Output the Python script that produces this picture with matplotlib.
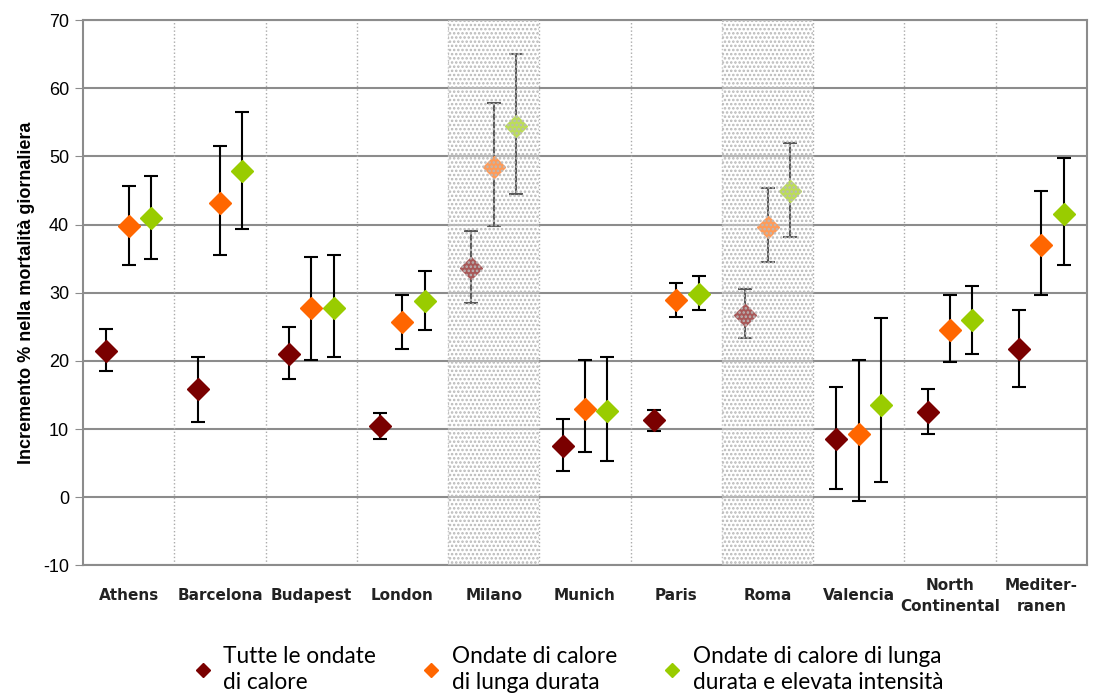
import matplotlib.pyplot as plt
import numpy as np
from matplotlib.patches import Rectangle
from matplotlib.lines import Line2D

plt.rcParams['axes.unicode_minus'] = False
plt.rcParams['hatch.linewidth'] = 1.2
plt.rcParams['hatch.color'] = '#b8b8b8'

cities = ['Athens', 'Barcelona', 'Budapest', 'London', 'Milano', 'Munich',
          'Paris', 'Roma', 'Valencia', 'North\nContinental', 'Mediter-\nranen']

# tutte le ondate di calore
all_val = [21.5, 15.8, 21.0, 10.5, 33.7, 7.5, 11.3, 26.8, 8.5, 12.5, 21.8]
all_lo = [18.5, 11.1, 17.4, 8.5, 28.5, 3.8, 9.7, 23.3, 1.2, 9.3, 16.2]
all_hi = [24.7, 20.5, 25.0, 12.3, 39.0, 11.5, 12.8, 30.5, 16.2, 15.8, 27.5]

# ondate di lunga durata
long_val = [39.8, 43.2, 27.8, 25.7, 48.5, 13.0, 29.0, 39.7, 9.2, 24.5, 37.0]
long_lo = [34.0, 35.5, 20.2, 21.8, 39.8, 6.6, 26.5, 34.5, -0.5, 19.8, 29.7]
long_hi = [45.6, 51.5, 35.3, 29.6, 57.8, 20.1, 31.5, 45.3, 20.1, 29.6, 45.0]

# lunga durata e elevata intensita
int_val = [41.0, 47.8, 27.8, 28.8, 54.5, 12.7, 29.8, 45.0, 13.5, 26.0, 41.5]
int_lo = [35.0, 39.3, 20.5, 24.5, 44.5, 5.3, 27.5, 38.2, 2.2, 21.0, 34.0]
int_hi = [47.2, 56.5, 35.5, 33.2, 65.0, 20.6, 32.5, 52.0, 26.3, 31.0, 49.8]

shaded = ['Milano', 'Roma']

labels = ['Tutte le ondate\ndi calore', 'Ondate di calore\ndi lunga durata',
          'Ondate di calore di lunga\ndurata e elevata intensità']
colors = ['#7a0000', '#ff6600', '#99cc00']

fig = plt.figure(figsize=(10.93, 6.97), dpi=100)
ax = fig.add_axes([0.076, 0.189, 0.9185, 0.782])

x = np.arange(len(cities))
offsets = [-0.245, 0.0, 0.245]
series = [(all_val, all_lo, all_hi), (long_val, long_lo, long_hi),
          (int_val, int_lo, int_hi)]

for (val, lo, hi), off, col in zip(series, offsets, colors):
    val = np.array(val)
    err = [val - np.array(lo), np.array(hi) - val]
    ax.errorbar(x + off, val, yerr=err, fmt='D', color=col, ms=11,
                mec=col, ecolor='black', elinewidth=1.5, capsize=5,
                capthick=1.5, zorder=3)

# shaded categories drawn over the markers
for name in shaded:
    i = cities.index(name)
    ax.add_patch(Rectangle((i - 0.5, -10), 1, 80, facecolor=(1, 1, 1, 0.35),
                           hatch='....', lw=0, zorder=4))

ax.set_xlim(-0.5, len(cities) - 0.5)
ax.set_ylim(-10, 70)
ax.set_yticks(np.arange(-10, 71, 10))
ax.yaxis.grid(True, color='#8c8c8c', lw=1.5)
for b in range(1, len(cities)):
    ax.axvline(b - 0.5, color='#aaaaaa', ls=':', lw=1, zorder=1)
ax.set_axisbelow(True)

ax.set_xticks(x)
ax.set_xticklabels(cities, fontsize=11, fontweight='bold', family='DejaVu Sans',
                   color='#222222')
ax.tick_params(axis='x', length=0, pad=22)
ax.tick_params(axis='y', length=6, color='#8c8c8c', labelsize=13, pad=4)
for t in ax.get_yticklabels():
    t.set_family('Liberation Sans')
for t in ax.get_xticklabels():
    t.set_verticalalignment('center')
    t.set_linespacing(1.45)
for s in ax.spines.values():
    s.set_color('#8c8c8c')
    s.set_linewidth(1.5)

ax.set_ylabel('Incremento % nella mortalità giornaliera', fontsize=13,
              fontweight='bold', family='Liberation Sans', labelpad=6)

handles = [Line2D([], [], marker='D', ls='', color=c, ms=7) for c in colors]
leg = fig.legend(handles, labels, loc='upper center', bbox_to_anchor=(0.518, 0.102),
                 ncol=3, frameon=False, prop={'family': 'Lato', 'size': 16.3},
                 handletextpad=0.3, columnspacing=1.85, handlelength=1.2)
for t in leg.get_texts():
    t.set_linespacing(1.3)

fig.savefig('out.png', dpi=100)
